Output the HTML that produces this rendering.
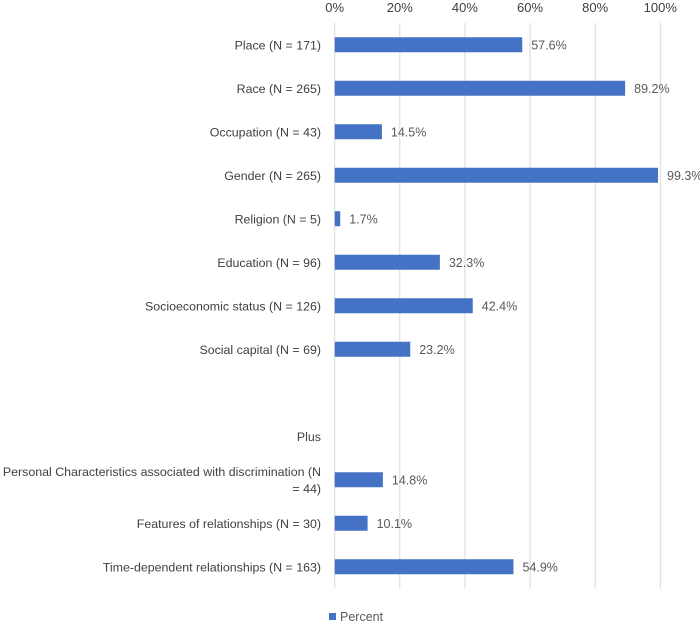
<!DOCTYPE html>
<html><head><meta charset="utf-8"><style>
body{margin:0;background:#fff;}
svg{display:block;font-family:"Liberation Sans",sans-serif;}
</style></head><body>
<svg id="chart" width="700" height="622" viewBox="0 0 700 622"></svg>
<script>
const categories=["Place (N = 171)","Race (N = 265)","Occupation (N = 43)","Gender (N = 265)","Religion (N = 5)","Education (N = 96)","Socioeconomic status (N = 126)","Social capital (N = 69)","","Plus","Personal Characteristics associated with discrimination (N|= 44)","Features of relationships (N = 30)","Time-dependent relationships (N = 163)"];
const values=[57.6,89.2,14.5,99.3,1.7,32.3,42.4,23.2,null,null,14.8,10.1,54.9];
const ticks=[0,20,40,60,80,100];
const NS="http://www.w3.org/2000/svg";
const svgEl=document.getElementById('chart');
const x0=334.7,x1=660.3,topY=23,rowH=43.5;
const xs=v=>x0+(x1-x0)*v/100;
const yc=i=>topY+rowH*(i+0.5);
function mk(t,a,txt){const e=document.createElementNS(NS,t);for(const k in a)e.setAttribute(k,a[k]);if(txt!=null)e.textContent=txt;svgEl.appendChild(e);return e;}
ticks.forEach(t=>{
  const g=mk('line',{x1:xs(t),x2:xs(t),y1:topY,y2:topY+rowH*categories.length,stroke:'#d9d9d9','stroke-width':1});
  
  
  const l=mk('text',{x:xs(t),y:12,'text-anchor':'middle','font-size':13,fill:'#404040'},t+'%');
  
  
});
categories.forEach((c,i)=>{
  const y=yc(i);
  if(c){
    const parts=c.split('|');
    parts.forEach((p,j)=>{
      const t=mk('text',{x:321,y:y+4.5+(j-(parts.length-1)/2)*17,'text-anchor':'end','font-size':12.4,fill:'#404040'},p);
      
      
    });
  }
  const v=values[i];
  if(v!=null){
    const b=mk('rect',{x:x0,y:y-7.5,width:xs(v)-x0,height:15,fill:'#4472c4'});
    
    
    const vl=mk('text',{x:xs(v)+9,y:y+4.5,'font-size':12.5,fill:'#595959'},v.toFixed(1)+'%');
    
    
  }
});
const ls=mk('rect',{x:329,y:613,width:7,height:7,fill:'#4472c4'});


const lt=mk('text',{x:340,y:621,'font-size':12.5,fill:'#595959'},'Percent');


</script>
</body></html>
